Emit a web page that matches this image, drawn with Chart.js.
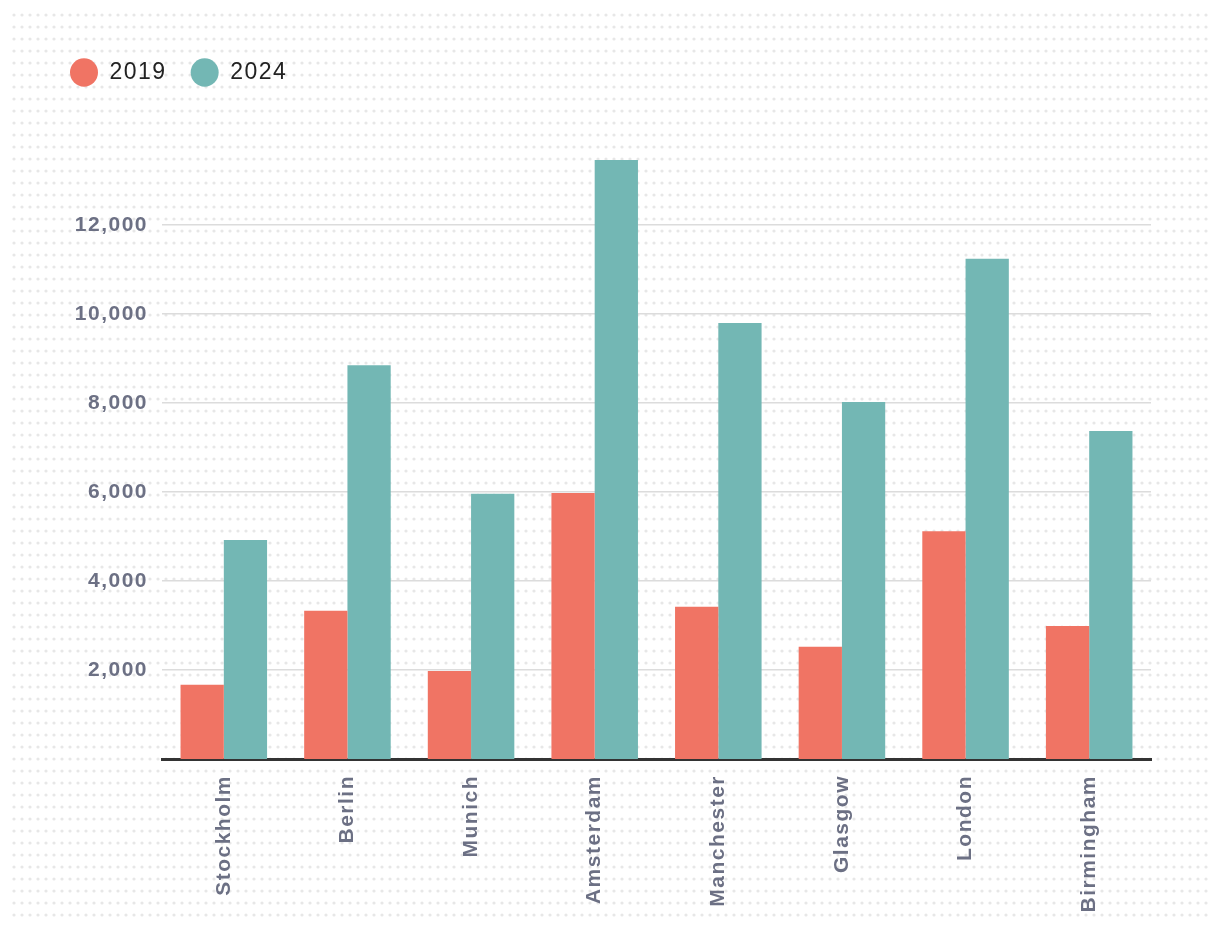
<!DOCTYPE html>
<html lang="en">
<head>
    <meta charset="UTF-8">
    <title>City values 2019 vs 2024</title>
    <script src="https://cdn.jsdelivr.net/npm/chart.js"></script>
    <style>
        html, body { margin: 0; padding: 0; background: #fff; }
        #wrap { width: 1220px; height: 932px; }
    </style>
</head>
<body>
    <div id="wrap"><canvas id="cityChart" width="1220" height="932"></canvas></div>

    <script>
        const cities = ['Stockholm', 'Berlin', 'Munich', 'Amsterdam', 'Manchester', 'Glasgow', 'London', 'Birmingham'];
        const values2019 = [1670, 3330, 1980, 5980, 3420, 2520, 5120, 2990];
        const values2024 = [4920, 8850, 5960, 13460, 9800, 8020, 11240, 7370];
        const yTicks = [2000, 4000, 6000, 8000, 10000, 12000];

        const tickColor = '#6c7084';
        const fontFamily = "'Liberation Sans', Arial, sans-serif";

        // dotted paper background + letter spacing for all text
        const backdrop = {
            id: 'backdrop',
            beforeInit(chart) {
                if (chart.legend) {
                    const fit = chart.legend.fit;
                    chart.legend.fit = function () {
                        fit.call(this);
                        this.height = 99;
                    };
                }
            },
            beforeLayout(chart) {
                chart.ctx.letterSpacing = '1.5px';
            },
            beforeDraw(chart) {
                const ctx = chart.ctx;
                ctx.save();
                ctx.fillStyle = '#ffffff';
                ctx.fillRect(0, 0, chart.width, chart.height);
                ctx.fillStyle = '#e7e7e7';
                for (let y = 15; y <= 916; y += 12) {
                    for (let x = 14; x <= 1207; x += 8) {
                        ctx.beginPath();
                        ctx.arc(x, y, 1.6, 0, Math.PI * 2);
                        ctx.fill();
                    }
                }
                ctx.restore();
                ctx.letterSpacing = '1.5px';
            }
        };

        const ctx = document.getElementById('cityChart').getContext('2d');
        new Chart(ctx, {
            type: 'bar',
            data: {
                labels: cities,
                datasets: [{
                    label: '2019',
                    data: values2019,
                    backgroundColor: '#f07464',
                    categoryPercentage: 0.7,
                    barPercentage: 1.0
                }, {
                    label: '2024',
                    data: values2024,
                    backgroundColor: '#73b7b4',
                    categoryPercentage: 0.7,
                    barPercentage: 1.0
                }]
            },
            options: {
                responsive: false,
                animation: false,
                layout: {
                    padding: { top: 37, left: 46, right: 69, bottom: 10 }
                },
                plugins: {
                    tooltip: { enabled: false },
                    legend: {
                        display: true,
                        position: 'top',
                        align: 'start',
                        labels: {
                            usePointStyle: true,
                            pointStyle: 'circle',
                            boxWidth: 20,
                            boxHeight: 20,
                            pointStyleWidth: 28,
                            padding: 24,
                            color: '#222222',
                            font: { family: fontFamily, size: 23 }
                        }
                    }
                },
                scales: {
                    x: {
                        grid: { display: false },
                        border: { display: true, color: '#333333', width: 3 },
                        ticks: {
                            minRotation: 90,
                            maxRotation: 90,
                            padding: 8,
                            color: tickColor,
                            font: { family: fontFamily, size: 21, weight: 'bold' }
                        },
                        afterFit(scale) { scale.height = 163; }
                    },
                    y: {
                        min: 0,
                        max: 14000,
                        grid: { color: '#dcdcdc', lineWidth: 1.5, drawTicks: false },
                        border: { display: false },
                        ticks: {
                            stepSize: 2000,
                            padding: 14,
                            color: tickColor,
                            font: { family: fontFamily, size: 21, weight: 'bold' },
                            callback: v => v.toLocaleString('en-US')
                        },
                        afterBuildTicks(scale) {
                            scale.ticks = yTicks.map(v => ({ value: v }));
                        },
                        afterFit(scale) { scale.width = 116; }
                    }
                }
            },
            plugins: [backdrop]
        });
    </script>
</body>
</html>
